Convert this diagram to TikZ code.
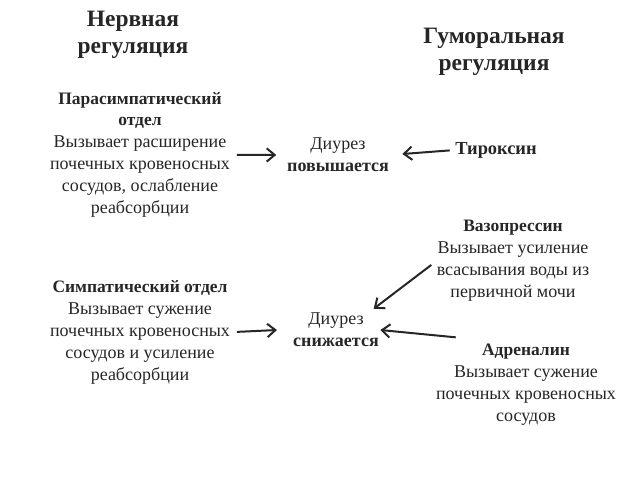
\documentclass[tikz,border=0pt]{standalone}
\usepackage{fontspec}
\setmainfont{Liberation Serif}
\usetikzlibrary{arrows.meta}
\tikzset{
  txt/.style={align=center,inner sep=0pt,text=black!85,font=\fontsize{13.5}{16.5}\selectfont},
  ttl/.style={align=center,inner sep=0pt,text=black!85,font=\bfseries\fontsize{17.6}{20.5}\selectfont},
  arr/.style={-{Straight Barb[length=6pt,width=10pt]},line width=1.5pt,black!85}
}
\newcommand{\hd}[1]{{\bfseries\fontsize{13.1}{14.3}\selectfont #1}}
\begin{document}
\begin{tikzpicture}[x=0.75pt,y=-0.75pt]
      \useasboundingbox (0,0) rectangle (640,480);
      \node[ttl] (nerv) at (133,35) {Нервная\\регуляция};
      \node[ttl] (gum) at (494,52) {Гуморальная\\регуляция};
      \node[txt,anchor=north] (para) at (140,92) {\hd{Парасимпатический}\\[-0.5pt]\hd{отдел}\\Вызывает расширение\\почечных кровеносных\\сосудов, ослабление\\реабсорбции};
      \node[txt,anchor=north] (symp) at (140,280) {\hd{Симпатический отдел}\\Вызывает сужение\\почечных кровеносных\\сосудов и усиление\\реабсорбции};
      \node[txt] (up) at (338,155) {Диурез\\\textbf{повышается}};
      \node[txt] (down) at (336,330) {Диурез\\\textbf{снижается}};
      \node[txt] (tyr) at (496,150) {\hd{\fontsize{13.8}{15}\selectfont Тироксин}};
      \node[txt,anchor=north] (vaso) at (513,220) {\hd{Вазопрессин}\\Вызывает усиление\\всасывания воды из\\первичной мочи};
      \node[txt,anchor=north] (adr) at (526,344) {\hd{Адреналин}\\Вызывает сужение\\почечных кровеносных\\сосудов};
      \draw[arr,shorten <=5pt,shorten >=8pt] (para.east) -- (up.west);
      \draw[arr,shorten <=4pt,shorten >=10pt] (tyr.west) -- (up.east);
      \draw[arr,shorten <=5pt] (symp.east) -- ([xshift=-12]down.west);
      \draw[arr,shorten <=5pt] (vaso.west) -- ([xshift=-4,yshift=3]down.north east);
      \draw[arr] ([xshift=15,yshift=5]adr.north west) -- ([xshift=1]down.east);
\end{tikzpicture}
\end{document}
